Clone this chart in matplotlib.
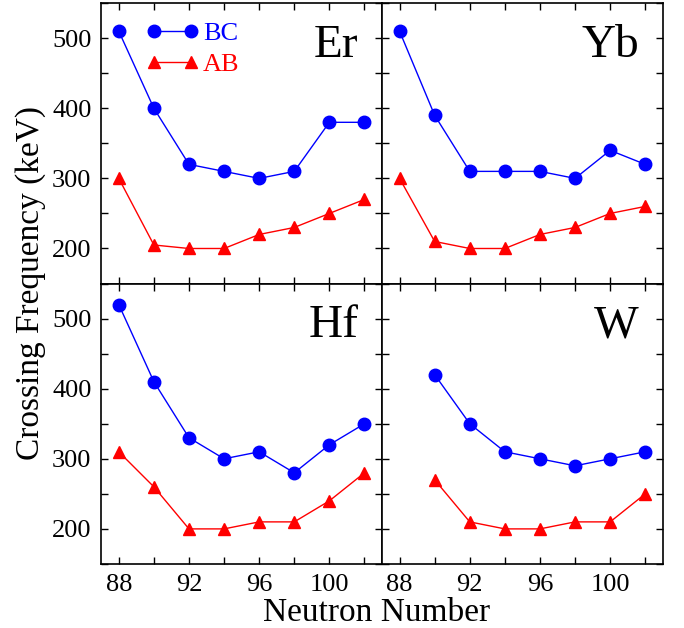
import matplotlib.pyplot as plt
from matplotlib.ticker import MultipleLocator

plt.rcParams['font.family'] = ['Liberation Serif', 'DejaVu Serif']

neutrons = [88, 90, 92, 94, 96, 98, 100, 102]
elements = ["Er", "Yb", "Hf", "W"]

bc_er = [510, 400, 320, 310, 300, 310, 380, 380]
ab_er = [300, 205, 200, 200, 220, 230, 250, 270]
bc_yb = [510, 390, 310, 310, 310, 300, 340, 320]
ab_yb = [300, 210, 200, 200, 220, 230, 250, 260]
bc_hf = [520, 410, 330, 300, 310, 280, 320, 350]
ab_hf = [310, 260, 200, 200, 210, 210, 240, 280]
neutrons_w = [90, 92, 94, 96, 98, 100, 102]
bc_w = [420, 350, 310, 300, 290, 300, 310]
ab_w = [270, 210, 200, 200, 210, 210, 250]

panels = [
    (neutrons, bc_er, ab_er),
    (neutrons, bc_yb, ab_yb),
    (neutrons, bc_hf, ab_hf),
    (neutrons_w, bc_w, ab_w),
]

fig, axes = plt.subplots(2, 2, sharex=True, sharey=True, figsize=(6.84, 6.28), dpi=100)
fig.subplots_adjust(left=0.148, right=0.969, top=0.995, bottom=0.102, wspace=0, hspace=0)

for ax, name, (x, bc, ab) in zip(axes.flat, elements, panels):
    ax.plot(x, bc, '-o', color='blue', lw=1, ms=9, label='BC')
    ax.plot(x, ab, '-^', color='red', lw=1, ms=9, label='AB')
    ax.text(0.915, 0.925, name, transform=ax.transAxes, ha='right', va='top', fontsize=34)
    ax.set_xlim(87, 103)
    ax.set_ylim(150, 550)
    ax.xaxis.set_major_locator(MultipleLocator(4))
    ax.xaxis.set_minor_locator(MultipleLocator(2))
    ax.yaxis.set_major_locator(MultipleLocator(100))
    ax.yaxis.set_minor_locator(MultipleLocator(50))
    ax.tick_params(which='both', direction='in', top=True, right=True, labelsize=19,
                   length=5, width=1, pad=7)
    for s in ax.spines.values():
        s.set_linewidth(1.2)

axes[0, 0].legend(loc='upper left', bbox_to_anchor=(0.095, 1.0), frameon=False, numpoints=2,
                  fontsize=19, labelcolor='linecolor', handlelength=2.0, handletextpad=0.15,
                  borderaxespad=0.3, labelspacing=0.3)

fig.supylabel('Crossing Frequency (keV)', fontsize=24, x=0.022, y=0.55)
fig.supxlabel('Neutron Number', fontsize=24, y=0.0, x=0.55)

fig.savefig('out.png')
